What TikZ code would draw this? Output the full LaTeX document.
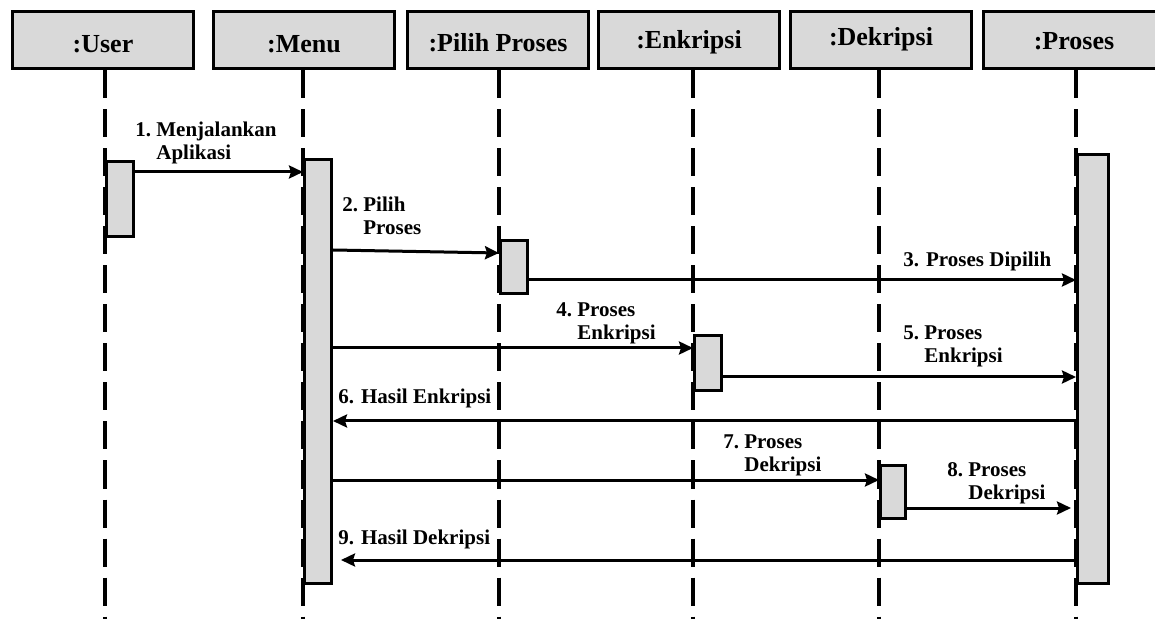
\documentclass[tikz,border=0pt]{standalone}
\usepackage{fontspec}
\setmainfont{Liberation Serif}
\usetikzlibrary{arrows.meta, calc, backgrounds}
\definecolor{boxgray}{RGB}{217,217,217}
% two-line message label, second line under the first word
\newcommand{\msgtext}[3]{\begin{tabular}[t]{@{}l@{\ }l@{}}#1&#2\\&#3\end{tabular}}

\begin{document}
\begin{tikzpicture}[
    x=0.5pt, y=-0.5pt,
    header/.style={rectangle, draw, fill=boxgray, line width=1.5pt, minimum width=90.5pt, minimum height=28.5pt, inner sep=0pt, text height=9pt, text depth=0pt, font=\fontsize{13}{15}\selectfont\bfseries},
    bar/.style={rectangle, draw, fill=boxgray, line width=1.5pt, minimum width=13.5pt, inner sep=0pt},
    lifeline/.style={line width=2pt, dash pattern=on 14pt off 5.5pt},
    msg/.style={-{Stealth[length=7pt, width=6.5pt, inset=1pt]}, line width=1.5pt},
    label/.style={anchor=base west, inner sep=0pt, font=\fontsize{10.5}{11.5}\selectfont\bfseries}
]
\useasboundingbox (0,0) rectangle (1155,619);

% Objects
\node[header, text height=12.5pt] (hUser) at (103,40.5) {:User};
\node[header, text height=12.5pt] (hMenu) at (304,40.5) {:Menu};
\node[header, text height=11pt] (hPilih) at (498,40.5) {:Pilih Proses};
\node[header, text height=8.5pt] (hEnk) at (689,40.5) {:Enkripsi};
\node[header, text height=5.5pt] (hDek) at (881,40.5) {:Dekripsi};
\node[header] (hProses) at (1074,40.5) {:Proses};

% Activation bars
\node[bar, minimum height=37.5pt] (actU) at (120,199) {};
\node[bar, minimum height=212pt] (actM) at (318,371.5) {};
\node[bar, minimum height=26.5pt] (actP) at (514,267) {};
\node[bar, minimum height=27.5pt] (actE) at (708,363) {};
\node[bar, minimum width=12.5pt, minimum height=26.5pt] (actD) at (893,492) {};
\node[bar, minimum width=15.5pt, minimum height=214.5pt] (actS) at (1093,369) {};

% Lifelines
\coordinate (bot) at (0,619);
\begin{scope}[on background layer]
\foreach \h/\a in {hUser/actU, hMenu/actM, hPilih/actP, hEnk/actE, hDek/actD, hProses/actS}
    \draw[lifeline] (\h.south -| \a.west) -- (\a.west |- bot);
\end{scope}

% Message levels
\coordinate (y1) at (0,172);
\coordinate (y2a) at (0,250);
\coordinate (y2b) at (0,253);
\coordinate (y3) at (0,280);
\coordinate (y4) at (0,348);
\coordinate (y5) at (0,377);
\coordinate (y6) at (0,421);
\coordinate (y7) at (0,480);
\coordinate (y8) at (0,508);
\coordinate (y9) at (0,560);

% Messages
\draw[msg] (actU.east |- y1) -- (actM.west |- y1);
\draw[msg] (actM.east |- y2a) -- (actP.west |- y2b);
\draw[msg] (actP.east |- y3) -- (actS.west |- y3);
\draw[msg] (actM.east |- y4) -- (actE.west |- y4);
\draw[msg] (actE.east |- y5) -- (actS.west |- y5);
\draw[msg] (actS.west |- y6) -- (actM.east |- y6);
\draw[msg] (actM.east |- y7) -- (actD.west |- y7);
\draw[msg] (actD.east |- y8) -- ($(actS.west |- y8)+(-5,0)$);
\draw[msg] (actS.west |- y9) -- ($(actM.east |- y9)+(8,0)$);

% Labels
\node[label] (lbl1) at (135,137) {\msgtext{1.}{Menjalankan}{Aplikasi}};
\node[label] (lbl2) at (342,212) {\msgtext{2.}{Pilih}{Proses}};
\node[label] (lbl3) at (903,267) {3. Proses Dipilih};
\node[label] (lbl4) at (556,317) {\msgtext{4.}{Proses}{Enkripsi}};
\node[label] (lbl5) at (903,340) {\msgtext{5.}{Proses}{Enkripsi}};
\node[label] (lbl6) at (338,404) {6. Hasil Enkripsi};
\node[label] (lbl7) at (723,449) {\msgtext{7.\ }{Proses}{Dekripsi}};
\node[label] (lbl8) at (947,476) {\msgtext{8.}{Proses}{Dekripsi}};
\node[label] (lbl9) at (338,544) {9. Hasil Dekripsi};

\end{tikzpicture}
\end{document}
